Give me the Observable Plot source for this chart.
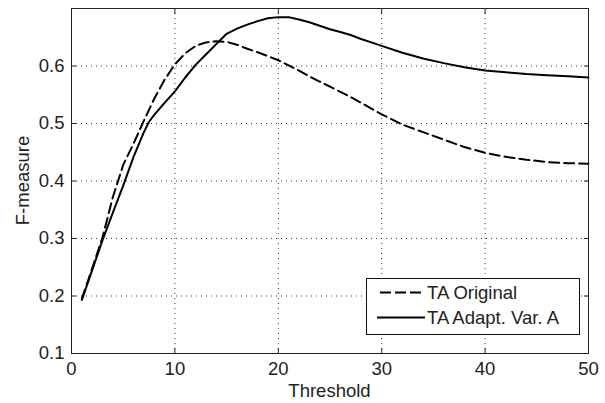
<!DOCTYPE html>
<html><head><meta charset="utf-8">
<script src="https://cdn.jsdelivr.net/npm/d3@7"></script>
<script src="https://cdn.jsdelivr.net/npm/@observablehq/plot@0.6"></script>
<style>body{margin:0;background:#fff}</style>
</head><body><div id="chart"></div>
<script>
const seriesNames = ["TA Original", "TA Adapt. Var. A"];
const origX = [1,2,3,4,5,6,7,8,9,10,11,12,13,14,15,16,17,18,19,20,21,22,23,24,25,26,27,28,29,30,32,34,36,38,40,42,44,46,48,50];
const origY = [0.195,0.248,0.302,0.372,0.428,0.465,0.505,0.543,0.576,0.603,0.622,0.635,0.641,0.643,0.642,0.637,0.630,0.624,0.617,0.610,0.601,0.592,0.582,0.573,0.564,0.555,0.546,0.536,0.526,0.516,0.498,0.485,0.472,0.459,0.449,0.442,0.437,0.433,0.431,0.430];
const adaptX = [1,2,3,4,5,6,7,7.5,8,9,10,11,12,13,14,15,16,17,18,19,20,21,22,23,24,25,26,27,28,29,30,32,34,36,38,40,42,44,46,48,50];
const adaptY = [0.193,0.245,0.297,0.345,0.392,0.442,0.485,0.503,0.515,0.536,0.556,0.580,0.602,0.620,0.638,0.656,0.665,0.672,0.678,0.683,0.685,0.685,0.681,0.676,0.670,0.664,0.659,0.654,0.647,0.641,0.635,0.623,0.613,0.605,0.598,0.592,0.589,0.586,0.584,0.582,0.580];
const xTicks = [0,10,20,30,40,50];
const yTicks = [0.1,0.2,0.3,0.4,0.5,0.6];
const xLabel = "Threshold";
const yLabel = "F-measure";

(function () {
const orig = origX.map((x,i)=>({x, y: origY[i]}));
const adapt = adaptX.map((x,i)=>({x, y: adaptY[i]}));
const FONT = "Liberation Sans, Arial, Helvetica, sans-serif";
const FS = 18.5;
const DASH = "10,5";

const plot = Plot.plot({
  width: 605, height: 403,
  marginLeft: 71, marginRight: 17, marginTop: 8, marginBottom: 50,
  style: {fontFamily: FONT, fontSize: FS + "px", color: "#222", background: "#fff"},
  x: {domain: [0, 50]},
  y: {domain: [0.1, 0.7]},
  marks: [
    Plot.gridX(xTicks, {stroke: "#000", strokeOpacity: 0.8, strokeDasharray: "1,4"}),
    Plot.gridY(yTicks, {stroke: "#000", strokeOpacity: 0.8, strokeDasharray: "1,4"}),
    Plot.axisX(xTicks, {anchor: "bottom", tickSize: -5, text: null, label: null, stroke: "#222"}),
    Plot.axisX(xTicks, {anchor: "top", tickSize: -5, text: null, label: null, stroke: "#222"}),
    Plot.axisY(yTicks, {anchor: "left", tickSize: -5, text: null, label: null, stroke: "#222"}),
    Plot.axisY(yTicks, {anchor: "right", tickSize: -5, text: null, label: null, stroke: "#222"}),
    Plot.axisX(xTicks, {anchor: "bottom", tickSize: 0, tickPadding: 8, label: null, tickFormat: d => String(d), fill: "#222"}),
    Plot.axisY(yTicks, {anchor: "left", tickSize: 0, tickPadding: 7, label: null, tickFormat: d => d.toFixed(1), fill: "#222"}),
    Plot.line(orig, {x: "x", y: "y", stroke: "#000", strokeWidth: 2, strokeDasharray: DASH}),
    Plot.line(adapt, {x: "x", y: "y", stroke: "#000", strokeWidth: 2}),
    Plot.frame({stroke: "#222", strokeWidth: 1})
  ]
});

const svg = d3.select(plot);
const xs = plot.scale("x"), ys = plot.scale("y");
const xL = xs.apply(0), xR = xs.apply(50), yT = ys.apply(0.7), yB = ys.apply(0.1);

svg.append("text").attr("x", (xL + xR) / 2).attr("y", yB + 44)
  .attr("text-anchor", "middle").attr("font-family", FONT).attr("font-size", FS).attr("fill", "#222").text(xLabel);
svg.append("text").attr("transform", `translate(${29},${(yT + yB) / 2}) rotate(-90)`)
  .attr("text-anchor", "middle").attr("font-family", FONT).attr("font-size", FS).attr("fill", "#222").text(yLabel);

const lgW = 213, lgH = 56;
const lgX = xR - 9 - lgW, lgY = yB - 19 - lgH;
const g = svg.append("g");
g.append("rect").attr("x", lgX + 0.5).attr("y", lgY + 0.5).attr("width", lgW).attr("height", lgH)
  .attr("fill", "#fff").attr("stroke", "#111").attr("stroke-width", 1);
const styles = ["11,4", null];
seriesNames.forEach((name, i) => {
  const cy = lgY + 14.5 + i * 25;
  const ln = g.append("line").attr("x1", lgX + 11).attr("x2", lgX + 59).attr("y1", cy).attr("y2", cy)
    .attr("stroke", "#000").attr("stroke-width", 2);
  if (styles[i]) ln.attr("stroke-dasharray", styles[i]).attr("x1", lgX + 14);
  g.append("text").attr("x", lgX + 61).attr("y", cy + 6.5).attr("text-anchor", "start")
    .attr("font-family", FONT).attr("font-size", FS).attr("fill", "#222").text(name);
});

document.getElementById("chart").appendChild(plot);
})();
</script>
</body></html>
